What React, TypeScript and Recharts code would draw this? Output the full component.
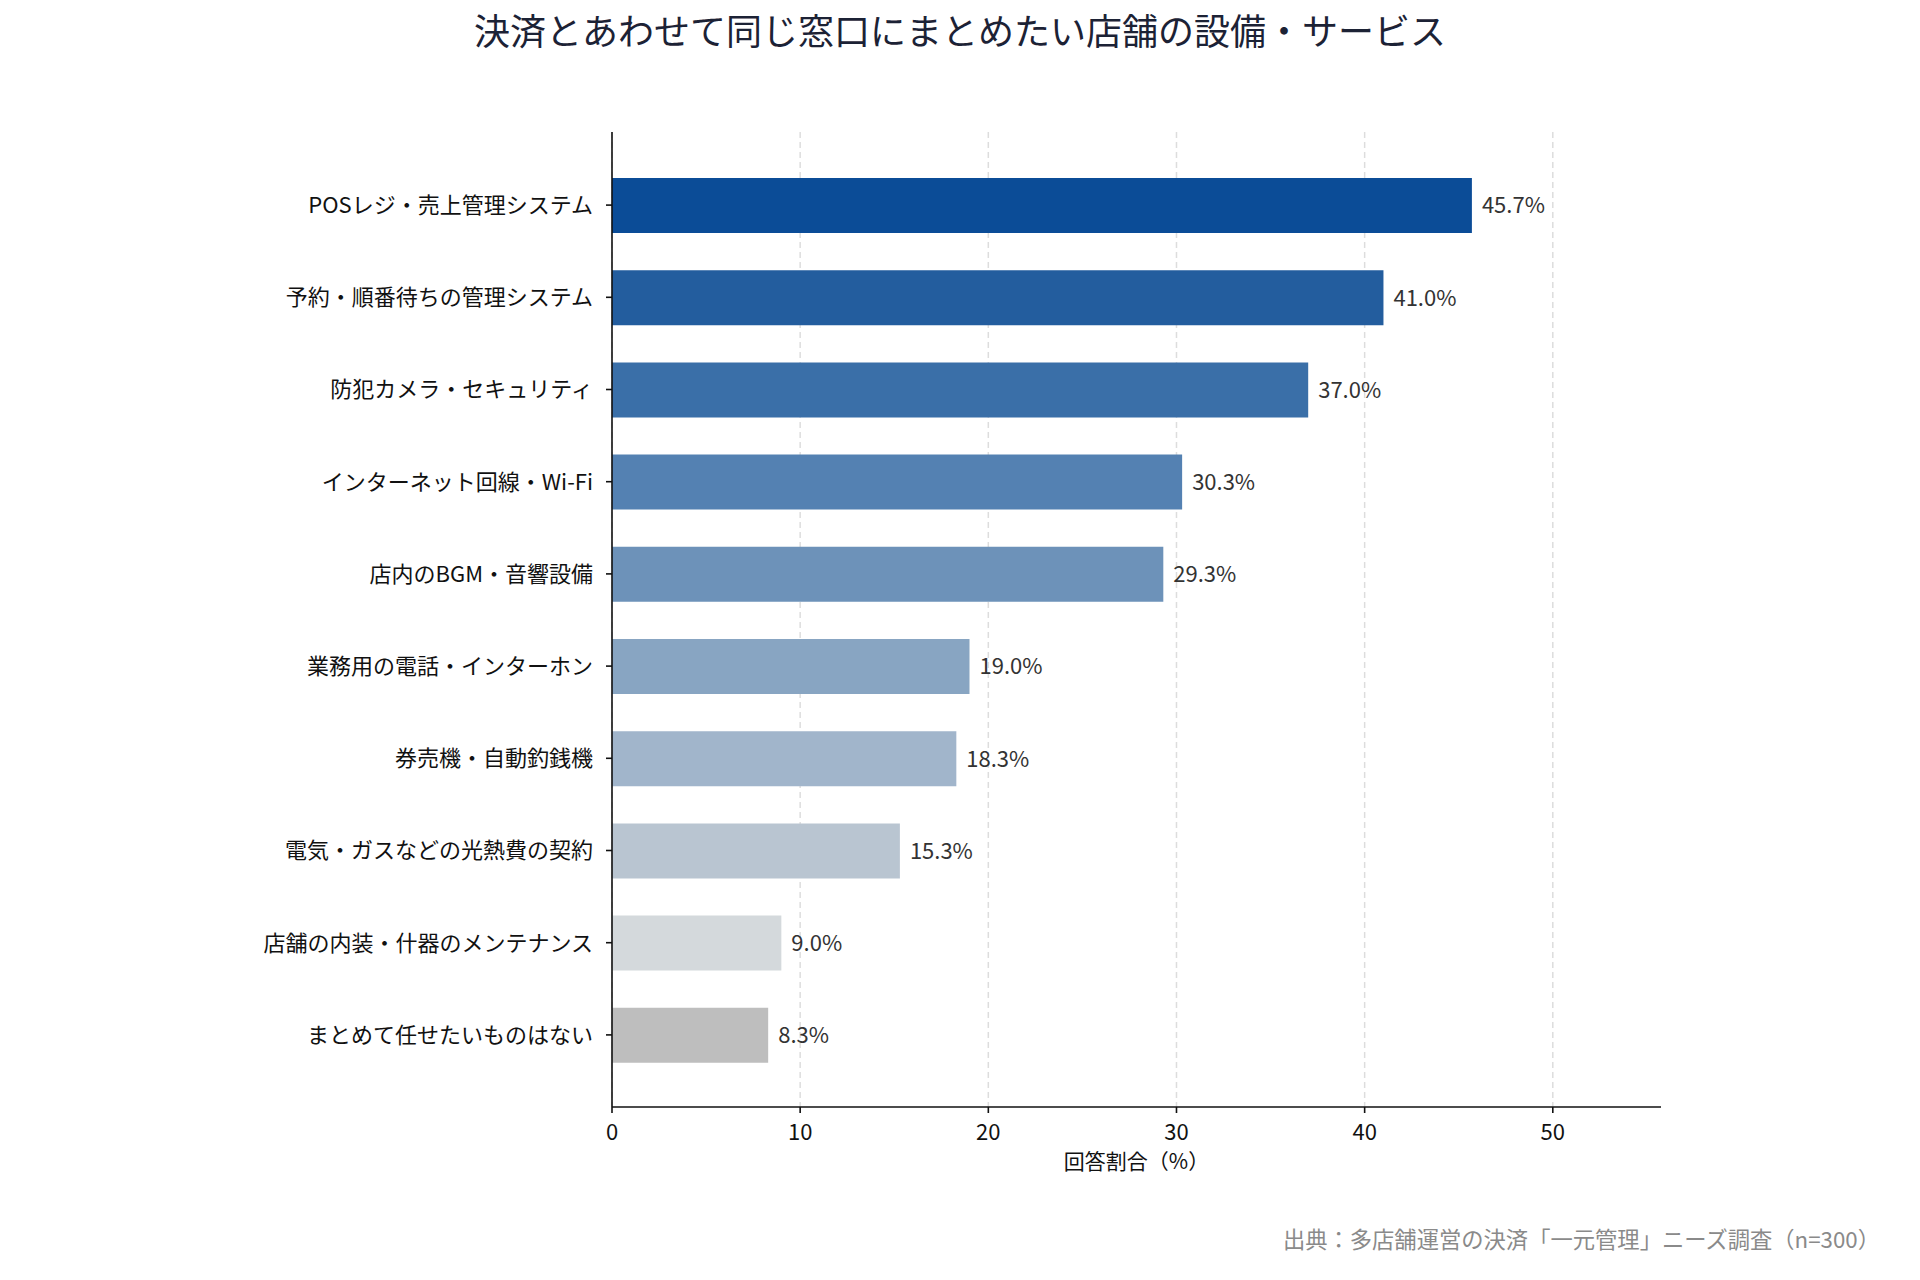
import React from "react"
import { BarChart, Bar, XAxis, YAxis, CartesianGrid, Cell, LabelList } from "recharts"

// survey items, top to bottom
const items = [
  "POSレジ・売上管理システム",
  "予約・順番待ちの管理システム",
  "防犯カメラ・セキュリティ",
  "インターネット回線・Wi-Fi",
  "店内のBGM・音響設備",
  "業務用の電話・インターホン",
  "券売機・自動釣銭機",
  "電気・ガスなどの光熱費の契約",
  "店舗の内装・什器のメンテナンス",
  "まとめて任せたいものはない",
]

const shares = [45.7, 41.0, 37.0, 30.3, 29.3, 19.0, 18.3, 15.3, 9.0, 8.3]

const xTicks = [0, 10, 20, 30, 40, 50]
const xMax = 55.75

const palette = [
  "#0b4c97",
  "#235d9e",
  "#3a6fa8",
  "#5481b2",
  "#6d92b9",
  "#88a5c2",
  "#a1b5cb",
  "#b9c5d1",
  "#d4d9dc",
  "#bebebe",
]

const FONT = '"Noto Sans CJK JP", "Noto Sans", sans-serif'

// grid only at the tick values (no line at the right edge)
function gridX({ xAxis, offset }: any) {
  const s = xAxis?.scale
  return xTicks.map((t) => {
    if (typeof s === "function") return s(t)
    if (s && typeof s.map === "function") return s.map(t)
    return offset.left + (t / xMax) * offset.width
  })
}

export default function App() {
  const data = items.map((name, i) => ({ name, value: shares[i] }))

  return (
    <div style={{ position: "relative", width: 1920, height: 1280, background: "#fff", fontFamily: FONT }}>
      <style>{"body{margin:0}"}</style>
      <div
        style={{
          position: "absolute",
          top: 10,
          left: 0,
          width: 1920,
          textAlign: "center",
          fontSize: 36,
          lineHeight: "38px",
          color: "#1c2235",
        }}
      >
        決済とあわせて同じ窓口にまとめたい店舗の設備・サービス
      </div>

      <BarChart
        width={1920}
        height={1280}
        data={data}
        layout="vertical"
        margin={{ top: 132, right: 259, bottom: 113, left: 0 }}
      >
        <CartesianGrid
          horizontal={false}
          stroke="#dddddd"
          strokeDasharray="6 4"
          strokeWidth={1.5}
          verticalCoordinatesGenerator={gridX}
        />
        <XAxis
          type="number"
          domain={[0, xMax]}
          ticks={xTicks}
          allowDataOverflow
          height={60}
          stroke="#111"
          strokeWidth={1.6}
          tickSize={6}
          tickMargin={11}
          tick={{ fontSize: 22, fill: "#111", fontFamily: FONT }}
        />
        <YAxis
          type="category"
          dataKey="name"
          width={612}
          padding={{ top: 27, bottom: 26 }}
          stroke="#111"
          strokeWidth={1.6}
          tickSize={6}
          tickMargin={13}
          interval={0}
          tick={{ fontSize: 22, fill: "#111", fontFamily: FONT }}
        />
        <Bar dataKey="value" barSize={55} isAnimationActive={false}>
          {data.map((d, i) => (
            <Cell key={d.name} fill={palette[i]} />
          ))}
          <LabelList
            dataKey="value"
            position="right"
            offset={10}
            formatter={(v: number) => `${v.toFixed(1)}%`}
            style={{ fontSize: 22, fill: "#333", fontFamily: FONT }}
          />
        </Bar>
      </BarChart>

      <div
        style={{
          position: "absolute",
          top: 1148,
          left: 0,
          width: 2273,
          textAlign: "center",
          fontSize: 21,
          lineHeight: "24px",
          color: "#111",
        }}
      >
        回答割合（%）
      </div>

      <div
        style={{
          position: "absolute",
          top: 1224,
          right: 40,
          fontSize: 22.3,
          lineHeight: "28px",
          color: "#8a8a8a",
        }}
      >
        出典：多店舗運営の決済「一元管理」ニーズ調査（n=300）
      </div>
    </div>
  )
}
